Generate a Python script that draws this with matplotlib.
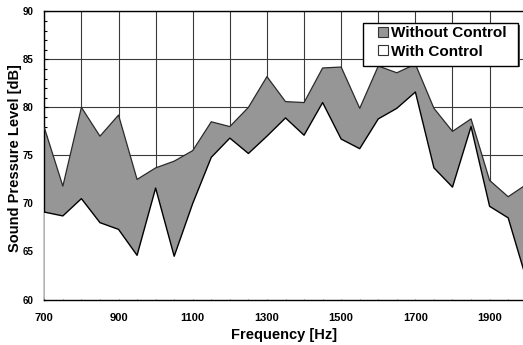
import matplotlib
matplotlib.use("Agg")
import matplotlib.pyplot as plt
from matplotlib.ticker import MultipleLocator, FuncFormatter
from matplotlib.patches import Patch, Rectangle

freq = [700, 750, 800, 850, 900, 950, 1000, 1050, 1100, 1150, 1200, 1250, 1300,
        1350, 1400, 1450, 1500, 1550, 1600, 1650, 1700, 1750, 1800, 1850, 1900,
        1950, 2000]
without_control = [77.9, 71.8, 80.0, 77.0, 79.2, 72.5, 73.7, 74.4, 75.5, 78.5,
                   78.0, 80.0, 83.2, 80.6, 80.5, 84.1, 84.2, 79.9, 84.3, 83.6,
                   84.5, 79.9, 77.5, 78.8, 72.4, 70.7, 72.0]
with_control = [69.1, 68.7, 70.5, 68.0, 67.3, 64.6, 71.6, 64.5, 70.0, 74.8,
                76.8, 75.2, 77.0, 78.9, 77.1, 80.5, 76.7, 75.7, 78.8, 79.9,
                81.6, 73.7, 71.7, 78.0, 69.7, 68.5, 62.0]
series_labels = ["Without Control", "With Control"]
xlabel = "Frequency [Hz]"
ylabel = "Sound Pressure Level [dB]"

plt.rcParams['font.family'] = ['Liberation Sans', 'DejaVu Sans']
plt.rcParams['font.weight'] = 'bold'

W, H = 523, 345
fig = plt.figure(figsize=(W / 100, H / 100), dpi=100)
left, bottom, top = 44.3, 299.5, 11.3
ax = fig.add_axes([left / W, (H - bottom) / H, (W - left) / W, (bottom - top) / H])

ymin = 60
ax.fill_between(freq, ymin, without_control, facecolor='#969696',
                edgecolor='none', zorder=2)
ax.fill_between(freq, ymin, with_control, facecolor='white',
                edgecolor='none', zorder=3)
ax.plot(freq, without_control, color='#2a2a2a', lw=0.9, zorder=4)
ax.plot(freq, with_control, color='black', lw=1.0, zorder=4)

ax.set_xlim(700, 1990)
ax.set_ylim(60, 90)

ax.xaxis.set_major_locator(MultipleLocator(100))
ax.xaxis.set_minor_locator(MultipleLocator(50))
ax.xaxis.set_major_formatter(FuncFormatter(
    lambda v, p: f"{int(round(v))}" if int(round(v)) % 200 == 100 else ""))
ax.yaxis.set_major_locator(MultipleLocator(5))
ax.yaxis.set_minor_locator(MultipleLocator(1))

ax.grid(True, which='major', color='#3a3a3a', lw=0.8, zorder=1)
ax.set_axisbelow(True)

ax.tick_params(axis='x', which='both', direction='in', length=3, width=0.8,
               labelsize=8, pad=10)
ax.tick_params(axis='y', which='major', direction='in', length=3, width=0.8,
               labelsize=7, pad=8)
ax.tick_params(axis='y', which='minor', direction='in', length=2, width=0.8)
for lab in ax.get_xticklabels() + ax.get_yticklabels():
    lab.set_fontweight('bold')

ax.spines['right'].set_visible(False)
for s in ['left', 'bottom', 'top']:
    ax.spines[s].set_linewidth(1.0)
    ax.spines[s].set_color('black')

ax.set_xlabel(xlabel, fontsize=10.5, fontweight='bold', labelpad=3)
ax.set_ylabel(ylabel, fontsize=10.5, fontweight='bold')
ax.yaxis.set_label_coords((22.5 - left) / (W - left), 0.49)

# legend frame (box with a slight shadow), in figure pixel coordinates
bx0, by0, bx1, by1 = 363.3, 23.3, 518.3, 65.7
shadow = Rectangle(((bx0 + 1.5) / W, (H - by1 - 1.5) / H), (bx1 - bx0) / W,
                   (by1 - by0) / H, transform=fig.transFigure,
                   facecolor='#555555', edgecolor='none', zorder=4)
frame = Rectangle((bx0 / W, (H - by1) / H), (bx1 - bx0) / W, (by1 - by0) / H,
                  transform=fig.transFigure, facecolor='white',
                  edgecolor='black', lw=1.0, zorder=4.5)
fig.add_artist(shadow)
fig.add_artist(frame)

handles = [Patch(facecolor='#969696', edgecolor='#333333', lw=0.8),
           Patch(facecolor='white', edgecolor='#333333', lw=0.8)]
leg = fig.legend(handles, series_labels, loc='upper left',
                 bbox_to_anchor=(378 / W, (H - 26.0) / H),
                 fontsize=11, frameon=False,
                 handlelength=0.65, handleheight=0.65,
                 handletextpad=0.2, borderpad=0, labelspacing=0.3,
                 borderaxespad=0)
leg.set_zorder(6)
for t in leg.get_texts():
    t.set_fontweight('bold')

fig.savefig("out.png", dpi=100)
